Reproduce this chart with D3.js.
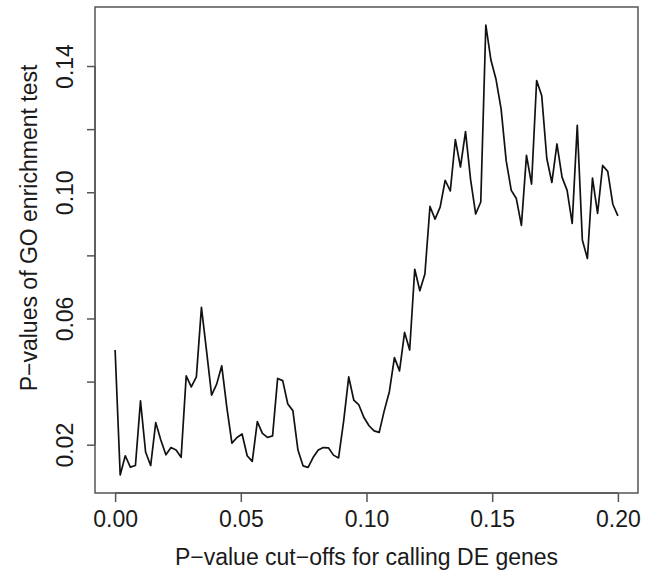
<!DOCTYPE html>
<html>
<head>
<meta charset="utf-8">
<script src="https://cdn.jsdelivr.net/npm/d3@7"></script>
<style>
  html, body { margin: 0; padding: 0; background: #fff; }
  svg { display: block; }
  text { font-family: "Liberation Sans", Arial, Helvetica, sans-serif; fill: #1a1a1a; }
</style>
</head>
<body>
<svg id="chart" width="652" height="571"></svg>
<script>
// P-value cut-offs (x)
const cutoffs = [
  0.00000, 0.00202, 0.00404, 0.00606, 0.00808, 0.01010, 0.01212, 0.01414, 0.01616, 0.01818,
  0.02020, 0.02222, 0.02424, 0.02626, 0.02828, 0.03030, 0.03232, 0.03434, 0.03636, 0.03838,
  0.04040, 0.04242, 0.04444, 0.04646, 0.04848, 0.05051, 0.05253, 0.05455, 0.05657, 0.05859,
  0.06061, 0.06263, 0.06465, 0.06667, 0.06869, 0.07071, 0.07273, 0.07475, 0.07677, 0.07879,
  0.08081, 0.08283, 0.08485, 0.08687, 0.08889, 0.09091, 0.09293, 0.09495, 0.09697, 0.09899,
  0.10101, 0.10303, 0.10505, 0.10707, 0.10909, 0.11111, 0.11313, 0.11515, 0.11717, 0.11919,
  0.12121, 0.12323, 0.12525, 0.12727, 0.12929, 0.13131, 0.13333, 0.13535, 0.13737, 0.13939,
  0.14141, 0.14343, 0.14545, 0.14747, 0.14949, 0.15152, 0.15354, 0.15556, 0.15758, 0.15960,
  0.16162, 0.16364, 0.16566, 0.16768, 0.16970, 0.17172, 0.17374, 0.17576, 0.17778, 0.17980,
  0.18182, 0.18384, 0.18586, 0.18788, 0.18990, 0.19192, 0.19394, 0.19596, 0.19798, 0.20000
];
// GO enrichment test p-values (y)
const goPValues = [
  0.0500, 0.0104, 0.0165, 0.0129, 0.0134, 0.0339, 0.0177, 0.0134, 0.0270, 0.0215,
  0.0168, 0.0191, 0.0183, 0.0160, 0.0418, 0.0383, 0.0415, 0.0635, 0.0498, 0.0357,
  0.0392, 0.0450, 0.0318, 0.0205, 0.0223, 0.0234, 0.0165, 0.0147, 0.0273, 0.0236,
  0.0223, 0.0228, 0.0410, 0.0403, 0.0329, 0.0308, 0.0183, 0.0133, 0.0128, 0.0160,
  0.0183, 0.0191, 0.0190, 0.0167, 0.0158, 0.0275, 0.0415, 0.0341, 0.0326, 0.0286,
  0.0260, 0.0244, 0.0239, 0.0308, 0.0368, 0.0476, 0.0434, 0.0556, 0.0500, 0.0756,
  0.0688, 0.0741, 0.0955, 0.0915, 0.0953, 0.1038, 0.1004, 0.1167, 0.1080, 0.1192,
  0.1040, 0.0931, 0.0969, 0.1530, 0.1419, 0.1358, 0.1264, 0.1100, 0.1006, 0.0980,
  0.0895, 0.1117, 0.1026, 0.1354, 0.1306, 0.1107, 0.1031, 0.1153, 0.1048, 0.1006,
  0.0901, 0.1212, 0.0849, 0.0790, 0.1045, 0.0933, 0.1085, 0.1066, 0.0962, 0.0925
];
const xTicks = [0.00, 0.05, 0.10, 0.15, 0.20];
const xTickLabels = ["0.00", "0.05", "0.10", "0.15", "0.20"];
const yTicks = [0.02, 0.04, 0.06, 0.08, 0.10, 0.12, 0.14];
const yTickLabels = ["0.02", "", "0.06", "", "0.10", "", "0.14"];
const xTitle = "P\u2212value cut\u2212offs for calling DE genes";
const yTitle = "P\u2212values of GO enrichment test";

const plot = { left: 95, right: 638, top: 7, bottom: 493 };
const fontSize = 23;

const svg = d3.select("#chart");

// R-style 4% axis extension
function padExtent(ext) {
  const r = ext[1] - ext[0];
  return [ext[0] - 0.04 * r, ext[1] + 0.04 * r];
}
const x = d3.scaleLinear().domain(padExtent(d3.extent(cutoffs))).range([plot.left, plot.right]);
const y = d3.scaleLinear().domain(padExtent(d3.extent(goPValues))).range([plot.bottom, plot.top]);

// Data line
const data = cutoffs.map((c, i) => ({ x: c, y: goPValues[i] }));
svg.append("path")
  .datum(data)
  .attr("fill", "none")
  .attr("stroke", "#111")
  .attr("stroke-width", 1.7)
  .attr("stroke-linejoin", "round")
  .attr("d", d3.line().x(d => x(d.x)).y(d => y(d.y)));

// Box
svg.append("rect")
  .attr("x", plot.left).attr("y", plot.top)
  .attr("width", plot.right - plot.left).attr("height", plot.bottom - plot.top)
  .attr("fill", "none").attr("stroke", "#555").attr("stroke-width", 1.5);

// X axis
const xAxis = d3.axisBottom(x)
  .tickValues(xTicks)
  .tickSize(9)
  .tickPadding(0)
  .tickFormat((d, i) => xTickLabels[i]);
const gx = svg.append("g").attr("transform", `translate(0,${plot.bottom})`).call(xAxis);
gx.select(".domain").attr("stroke", "#555").attr("stroke-width", 1.5)
  .attr("d", `M${x(xTicks[0])},0H${x(xTicks[xTicks.length - 1])}`);
gx.selectAll(".tick line").attr("stroke", "#555").attr("stroke-width", 1.5);
gx.selectAll(".tick text")
  .attr("font-size", fontSize)
  .attr("font-family", "Liberation Sans, Arial, sans-serif")
  .attr("fill", "#1a1a1a")
  .attr("dy", null)
  .attr("y", 526.5 - plot.bottom);

// Y axis
const yAxis = d3.axisLeft(y)
  .tickValues(yTicks)
  .tickSize(8)
  .tickFormat((d, i) => yTickLabels[i]);
const gy = svg.append("g").attr("transform", `translate(${plot.left},0)`).call(yAxis);
gy.select(".domain").attr("stroke", "#555").attr("stroke-width", 1.5)
  .attr("d", `M0,${y(yTicks[0])}V${y(yTicks[yTicks.length - 1])}`);
gy.selectAll(".tick line").attr("stroke", "#555").attr("stroke-width", 1.5);
gy.selectAll(".tick text")
  .attr("font-size", fontSize)
  .attr("font-family", "Liberation Sans, Arial, sans-serif")
  .attr("fill", "#1a1a1a")
  .attr("x", null).attr("dy", null)
  .attr("text-anchor", "middle")
  .attr("transform", `translate(${73 - plot.left},0) rotate(-90)`);

// Titles
svg.append("text")
  .attr("x", (plot.left + plot.right) / 2)
  .attr("y", 565)
  .attr("text-anchor", "middle")
  .attr("font-size", fontSize)
  .text(xTitle);

svg.append("text")
  .attr("transform", `translate(37,228) rotate(-90)`)
  .attr("text-anchor", "middle")
  .attr("font-size", fontSize)
  .text(yTitle);
</script>
</body>
</html>
